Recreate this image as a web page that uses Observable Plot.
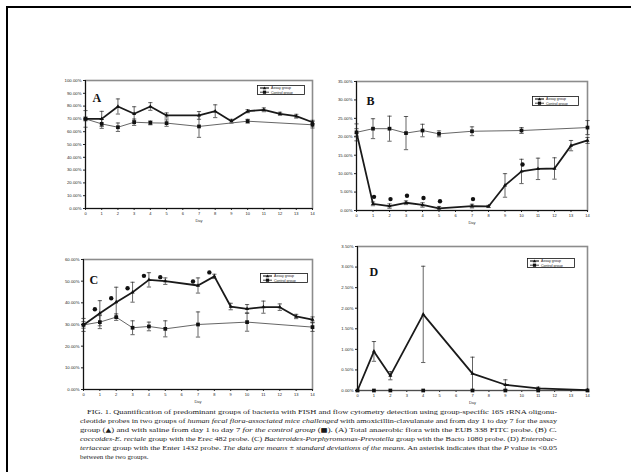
<!DOCTYPE html>
<html><head><meta charset="utf-8">
<script src="https://cdn.jsdelivr.net/npm/d3@7"></script>
<script src="https://cdn.jsdelivr.net/npm/@observablehq/plot@0.6"></script>
<style>
html,body{margin:0;padding:0;background:#fff;width:631px;height:472px;overflow:hidden;}
#page{position:relative;width:631px;height:472px;}
.border{position:absolute;left:6px;top:6px;width:660px;height:500px;border-top:2.5px solid #000;border-left:2.5px solid #000;}
.abs{position:absolute;}
</style></head><body><div id="page"><div class="border"></div></div>
<script>
// ---------- data ----------
const dayTicks = [0,1,2,3,4,5,6,7,8,9,10,11,12,13,14];
const legendLabels = ["Assay group", "Control group"];

// Panel A: total anaerobic flora (%)
const yTicksA = [0,10,20,30,40,50,60,70,80,90,100];
const assayDaysA = [0,1,2,3,4,5,7,8,9,10,11,12,13,14];
const assayA     = [70.0,70.0,79.7,74.0,79.7,72.7,72.7,76.0,68.2,76.0,77.1,74.0,72.1,67.4];
const assaySdA   = [1.5,5.9,5.9,5.5,3.0,2.0,3.0,5.0,1.5,1.2,1.5,1.2,1.5,1.5];
const ctrlDaysA  = [0,1,2,3,4,5,7,10,14];
const ctrlA      = [70.0,66.1,63.5,67.4,66.9,66.7,64.1,68.2,65.4];
const ctrlSdA    = [6.5,3.5,3.3,2.5,1.5,2.5,8.5,1.5,2.5];
const starDaysA  = [];

// Panel B: C. coccoides-E. rectale group (%)
const yTicksB = [0,5,10,15,20,25,30,35];
const assayDaysB = [0,1,2,3,4,5,7,8,9,10,11,12,13,14];
const assayB     = [21.2,1.8,1.2,2.1,1.5,0.6,1.2,1.1,6.8,10.6,11.3,11.4,17.6,19.0];
const assaySdB   = [1.0,0.5,0.6,0.5,0.6,0.5,0.5,0.3,3.2,3.3,2.9,2.9,1.4,0.8];
const ctrlDaysB  = [0,1,2,3,4,5,7,10,14];
const ctrlB      = [21.2,22.2,22.2,21.0,21.7,20.8,21.5,21.7,22.5];
const ctrlSdB    = [2.3,2.7,3.4,4.5,1.7,0.8,1.2,0.8,1.9];
const starDaysB  = [1,2,3,4,5,7,10];

// Panel C: Bacteroides-Porphyromonas-Prevotella group (%)
const yTicksC = [0,10,20,30,40,50,60];
const assayDaysC = [0,1,2,3,4,5,7,8,9,10,11,12,13,14];
const assayC     = [29.8,35.2,40.3,44.9,50.6,50.0,48.0,52.2,38.3,37.2,38.0,38.0,33.7,32.3];
const assaySdC   = [1.5,5.8,6.9,4.6,3.3,1.5,3.5,1.0,1.5,2.0,2.8,1.5,1.0,1.2];
const ctrlDaysC  = [0,1,2,3,4,5,7,10,14];
const ctrlC      = [29.8,31.1,33.4,28.5,29.1,28.0,30.0,31.1,28.8];
const ctrlSdC    = [3.0,3.0,1.5,3.2,2.0,3.7,5.8,4.2,2.0];
const starDaysC  = [1,2,3,4,5,7,8];

// Panel D: Enterobacteriaceae group (%)
const yTicksD = [0,0.5,1,1.5,2,2.5,3,3.5];
const assayDaysD = [0,1,2,4,7,9,11,14];
const assayD     = [0,0.95,0.36,1.85,0.41,0.14,0.05,0.01];
const assaySdD   = [0,0.24,0.1,1.17,0.4,0.12,0.03,0];
const ctrlDaysD  = [0,1,2,4,7,9,11,14];
const ctrlD      = [0,0,0,0,0,0,0,0];
const ctrlSdD    = [0,0,0,0,0,0,0,0];
const starDaysD  = [];

// ---------- drawing ----------
const page = document.getElementById("page");
const pct = d => d.toFixed(2) + "%";

function rec(days, vals, sds){ return days.map((d,i)=>({day:d, v:vals[i], sd:sds[i]})); }

function panel(c){
  const A = rec(c.assayDays, c.assay, c.assaySd);
  const C = rec(c.ctrlDays, c.ctrl, c.ctrlSd);
  const S = c.starDays.map(d => A.find(r => r.day === d));
  const errs = A.concat(C).filter(r => r.sd > 0);
  const lo = d => Math.max(0, d.v - d.sd), hi = d => d.v + d.sd;
  const cw = 0.13;
  const svg = Plot.plot({
    width: c.width, height: c.height,
    marginLeft: c.mL, marginRight: c.mR, marginTop: c.mT, marginBottom: c.mB,
    style: {fontFamily: "Liberation Sans", background: "transparent", overflow: "visible", color: "#222"},
    x: {domain: [0,14]},
    y: {domain: [0, c.yMax]},
    marks: [
      Plot.frame({stroke: "#8c8c8c", strokeWidth: 1.6}),
      Plot.axisX({ticks: dayTicks, tickSize: 2, tickPadding: 2, tickFormat: d => String(d), fontSize: 4, label: null}),
      Plot.axisY({ticks: c.yTicks, tickSize: 2, tickPadding: 2, tickFormat: pct, fontSize: 4.3, label: null}),
      Plot.ruleY([0], {stroke: "#111", strokeWidth: 1}),
      Plot.ruleX([0], {stroke: "#111", strokeWidth: 1}),
      Plot.ruleX(errs, {x: "day", y1: lo, y2: hi, stroke: "#222", strokeWidth: 0.7}),
      Plot.link(errs, {x1: d => d.day - cw, x2: d => d.day + cw, y1: hi, y2: hi, stroke: "#222", strokeWidth: 0.7}),
      Plot.link(errs, {x1: d => d.day - cw, x2: d => d.day + cw, y1: lo, y2: lo, stroke: "#222", strokeWidth: 0.7}),
      Plot.line(C, {x: "day", y: "v", stroke: "#555", strokeWidth: 0.9}),
      Plot.line(A, {x: "day", y: "v", stroke: "#1a1a1a", strokeWidth: 1.8}),
      Plot.dot(C, {x: "day", y: "v", symbol: "square", r: 2.1, fill: "#111"}),
      Plot.dot(A, {x: "day", y: "v", symbol: "triangle", r: 1.5, fill: "#111"}),
      Plot.dot(S, {x: "day", y: "v", dx: c.starDx, dy: c.starDy, r: 2.2, fill: "#111"}),
      Plot.text(["Day"], {text: d => d, frameAnchor: "bottom", dy: 13, fontSize: 4, fill: "#333"}),
      Plot.text([c.letter], {text: d => d, frameAnchor: "top-left", dx: c.ldx, dy: c.ldy, textAnchor: "start",
                             fontSize: 12, fontWeight: "bold", fontFamily: "Liberation Serif", fill: "#111"})
    ]
  });
  const wrap = document.createElement("div");
  wrap.className = "abs";
  wrap.style.left = c.left + "px"; wrap.style.top = c.top + "px";
  wrap.appendChild(svg);
  page.appendChild(wrap);

  // legend box
  const [lx, ly, lw, lh] = c.legend;
  const ns = "http://www.w3.org/2000/svg";
  const lg = document.createElementNS(ns, "svg");
  lg.setAttribute("width", lw); lg.setAttribute("height", lh);
  lg.setAttribute("class", "abs");
  lg.style.left = lx + "px"; lg.style.top = ly + "px";
  lg.innerHTML =
    `<rect x="0.5" y="0.5" width="${lw-1}" height="${lh-1}" fill="#fff" stroke="#111" stroke-width="0.8"/>
     <line x1="3" x2="12" y1="${lh*0.3}" y2="${lh*0.3}" stroke="#222" stroke-width="1.2"/>
     <path d="M7.5,${lh*0.3-1.6} L9.2,${lh*0.3+1.2} L5.8,${lh*0.3+1.2}Z" fill="#111"/>
     <text x="14" y="${lh*0.3+1.3}" font-size="3.6" font-family="Liberation Sans" fill="#222">${legendLabels[0]}</text>
     <line x1="3" x2="12" y1="${lh*0.72}" y2="${lh*0.72}" stroke="#333" stroke-width="0.9"/>
     <rect x="5.9" y="${lh*0.72-1.6}" width="3.2" height="3.2" fill="#111"/>
     <text x="14" y="${lh*0.72+1.3}" font-size="3.6" font-family="Liberation Sans" fill="#222">${legendLabels[1]}</text>`;
  page.appendChild(lg);
}

panel({letter:"A", left:30, top:70, width:290, height:160, mL:55, mR:8, mT:10, mB:22,
  yMax:100, yTicks:yTicksA, assayDays:assayDaysA, assay:assayA, assaySd:assaySdA,
  ctrlDays:ctrlDaysA, ctrl:ctrlA, ctrlSd:ctrlSdA, starDays:starDaysA, starDx:-3, starDy:-6,
  ldx:7, ldy:13, legend:[257,85,48,10]});
panel({letter:"B", left:300, top:71, width:295, height:160, mL:56, mR:8, mT:10, mB:21,
  yMax:35, yTicks:yTicksB, assayDays:assayDaysB, assay:assayB, assaySd:assaySdB,
  ctrlDays:ctrlDaysB, ctrl:ctrlB, ctrlSd:ctrlSdB, starDays:starDaysB, starDx:1, starDy:-7,
  ldx:10, ldy:15, legend:[532,96,47,10]});
panel({letter:"C", left:30, top:249, width:290, height:162, mL:53, mR:8, mT:10, mB:22,
  yMax:60, yTicks:yTicksC, assayDays:assayDaysC, assay:assayC, assaySd:assaySdC,
  ctrlDays:ctrlDaysC, ctrl:ctrlC, ctrlSd:ctrlSdC, starDays:starDaysC, starDx:-5, starDy:-4,
  ldx:6, ldy:16, legend:[260,273,48,10]});
panel({letter:"D", left:300, top:236, width:295, height:176, mL:57, mR:8, mT:10, mB:22,
  yMax:3.5, yTicks:yTicksD, assayDays:assayDaysD, assay:assayD, assaySd:assaySdD,
  ctrlDays:ctrlDaysD, ctrl:ctrlD, ctrlSd:ctrlSdD, starDays:starDaysD, starDx:0, starDy:-6,
  ldx:12, ldy:21, legend:[527,258,48,10]});

// caption
const sym = s => `<tspan font-family="DejaVu Sans" font-size="6">${s}</tspan>`;
const captionLines = [
  'FIG. 1. Quantification of predominant groups of bacteria with FISH and flow cytometry detection using group-specific 16S rRNA oligonu-',
  'cleotide probes in two groups of <tspan font-style="italic">human fecal flora-associated mice challenged</tspan> with amoxicillin-clavulanate and from day 1 to day 7 for the assay',
  `group (${sym("\u25B2")}) and with saline from day 1 to day 7 <tspan font-style="italic">for the control group</tspan> (${sym("\u25A0")}). (A) Total anaerobic flora with the EUB 338 FITC probe. (B) <tspan font-style="italic">C.</tspan>`,
  '<tspan font-style="italic">coccoides-E. rectale</tspan> group with the Erec 482 probe. (C) <tspan font-style="italic">Bacteroides-Porphyromonas-Prevotella</tspan> group with the Bacto 1080 probe. (D) <tspan font-style="italic">Enterobac-</tspan>',
  '<tspan font-style="italic">teriaceae</tspan> group with the Enter 1432 probe. <tspan font-style="italic">The data are means ± standard deviations of the means.</tspan> An asterisk indicates that the <tspan font-style="italic">P</tspan> value is &lt;0.05',
  'between the two groups.'
];
const cap = document.createElementNS("http://www.w3.org/2000/svg", "svg");
cap.setAttribute("width", 631); cap.setAttribute("height", 70);
cap.setAttribute("class", "abs");
cap.style.left = "0px"; cap.style.top = "400px";
cap.innerHTML = captionLines.map((t, i) => {
  const x = i === 0 ? 87 : 80;
  const len = i === 0 ? 470 : 477;
  const tl = i < captionLines.length - 1 ? `textLength="${len}" lengthAdjust="spacingAndGlyphs"` : "";
  return `<text x="${x}" y="${13.5 + i*9}" ${tl} font-size="7" font-family="Liberation Serif" fill="#1a1a1a">${t}</text>`;
}).join("");
page.appendChild(cap);
</script></body></html>
